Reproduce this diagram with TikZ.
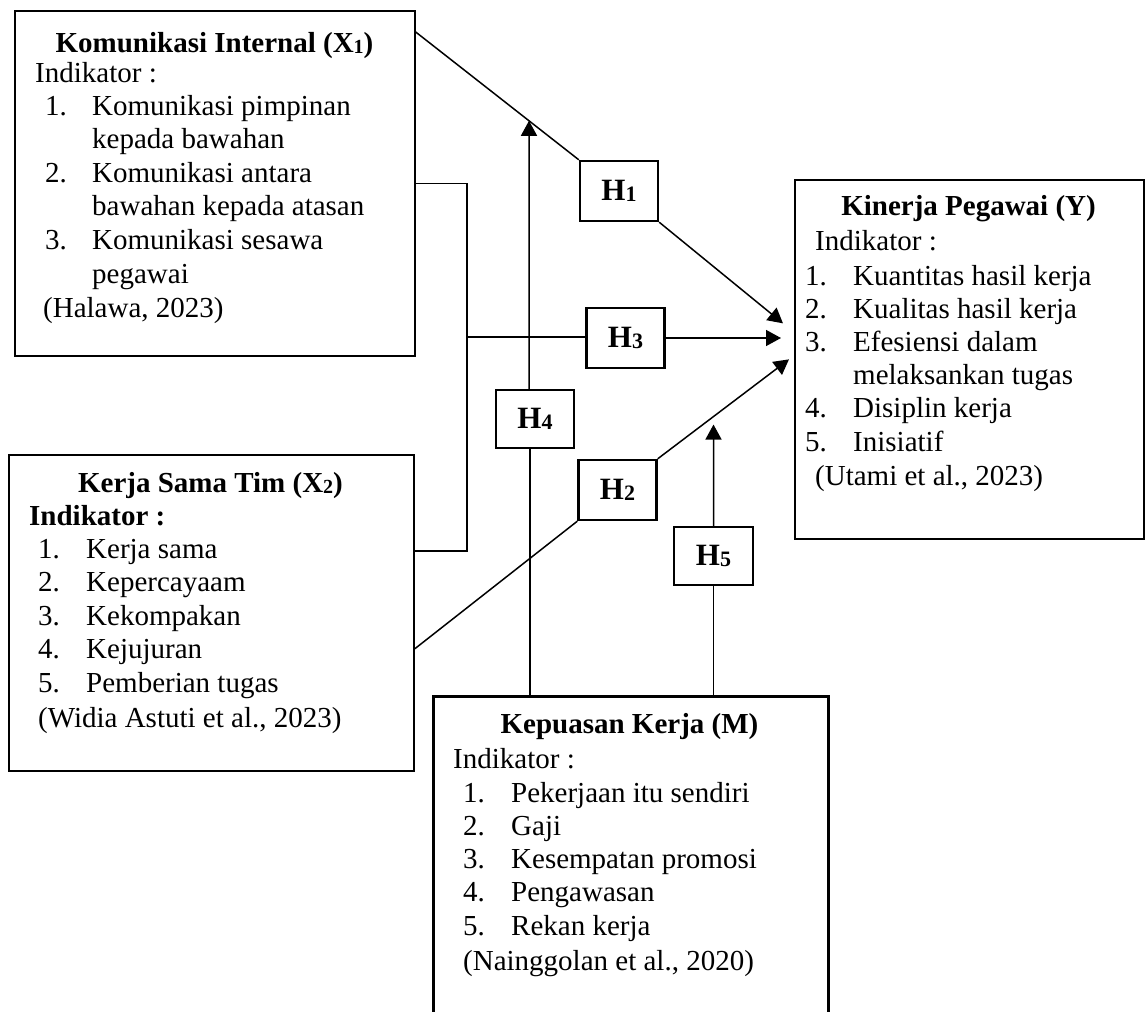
\documentclass[tikz,border=0pt]{standalone}
\usepackage{fontspec}
\setmainfont{Liberation Serif}
\usetikzlibrary{arrows.meta,intersections}
\newcommand\kfsub[2][20]{{\fontsize{#1}{#1}\selectfont\raisebox{-1.5pt}{#2}}}

\begin{document}
\begin{tikzpicture}[x=1pt,y=-1pt]
\tikzset{
    kfBox/.style={rectangle,draw=black,line width=1.7pt,anchor=north west,inner sep=0pt},
    kfHyp/.style={rectangle,draw=black,line width=2.4pt,minimum width=78pt,minimum height=60pt,inner sep=0pt,font=\fontsize{31}{33}\selectfont\bfseries},
    kfHead/.style={anchor=base,inner sep=0pt,font=\fontsize{29}{33.5}\selectfont\bfseries},
    kfTxt/.style={anchor=base west,inner sep=0pt,font=\fontsize{29}{33.5}\selectfont},
    kfLine/.style={draw=black,line width=1.5pt},
    kfArrow/.style={kfLine,-{Triangle[length=15pt,width=16pt]}},
}
\useasboundingbox (0,0) rectangle (1146,1012);
\clip (0,0) rectangle (1146,1012);

% variable boxes
\node[kfBox,minimum width=400pt,minimum height=345pt] (x1) at (14,10) {};
\node[kfBox,minimum width=405pt,minimum height=316pt] (x2) at (8,454) {};
\node[kfBox,minimum width=349pt,minimum height=359pt] (y) at (794,179) {};
\node[kfBox,minimum width=395pt,minimum height=360pt,line width=2.8pt] (m) at (432,695) {};

% X1
\node[kfHead] (x1h) at (214.5,52) {Komunikasi Internal (X\kfsub{1})};
\node[kfTxt] (x1i) at (35,82) {Indikator :};
\foreach \n/\t [count=\i] in {1./Komunikasi pimpinan, /kepada bawahan, 2./Komunikasi antara, /bawahan kepada atasan, 3./Komunikasi sesawa, /pegawai}
    \node[kfTxt] (x1t\i) at (45,{115+33.6*(\i-1)}) {\makebox[47pt][l]{\n}\t};
\node[kfTxt] (x1s) at (43,317) {(Halawa, 2023)};

% X2
\node[kfHead] (x2h) at (210.5,492) {Kerja Sama Tim (X\kfsub{2})};
\node[kfTxt,font=\fontsize{29}{33.5}\selectfont\bfseries] (x2i) at (29,525) {Indikator :};
\foreach \t [count=\i] in {Kerja sama, Kepercayaam, Kekompakan, Kejujuran, Pemberian tugas}
    \node[kfTxt] (x2t\i) at (38,{558+33.5*(\i-1)}) {\makebox[48pt][l]{\i.}\t};
\node[kfTxt] (x2s) at (38,727) {(Widia Astuti et al., 2023)};

% M
\node[kfHead] (mh) at (629.5,733) {Kepuasan Kerja (M)};
\node[kfTxt] (mi) at (453,768) {Indikator :};
\foreach \t [count=\i] in {Pekerjaan itu sendiri, Gaji, Kesempatan promosi, Pengawasan, Rekan kerja}
    \node[kfTxt] (mt\i) at (463,{802+33.3*(\i-1)}) {\makebox[48pt][l]{\i.}\t};
\node[kfTxt] (ms) at (463,970) {(Nainggolan et al., 2020)};

% Y
\node[kfHead] (yh) at (968.5,215) {Kinerja Pegawai (Y)};
\node[kfTxt] (yi) at (815,250) {Indikator :};
\foreach \n/\t [count=\i] in {1./Kuantitas hasil kerja, 2./Kualitas hasil kerja, 3./Efesiensi dalam, /melaksankan tugas, 4./Disiplin kerja, 5./Inisiatif}
    \node[kfTxt] (yt\i) at (805,{285+33.2*(\i-1)}) {\makebox[48pt][l]{\n}\t};
\node[kfTxt] (ys) at (815,485) {(Utami et al., 2023)};

% hypotheses
\node[kfHyp] (h1) at (619,191) {H\kfsub[22]{1}};
\node[kfHyp] (h3) at (625.5,338) {H\kfsub[22]{3}};
\node[kfHyp,minimum height=58pt] (h4) at (535,419) {H\kfsub[22]{4}};
\node[kfHyp] (h2) at (617.5,490) {H\kfsub[22]{2}};
\node[kfHyp,minimum height=58pt,minimum width=79pt] (h5) at (713.5,556) {H\kfsub[22]{5}};

\coordinate (x1o) at ([yshift=-22pt]x1.north east);
\coordinate (jn) at (467,337);
\coordinate (y1) at ([xshift=-11pt,yshift=36pt]y.west);
\coordinate (y3) at ([xshift=-13pt]y.west);
\coordinate (y2) at ([xshift=-5pt]y.west);
\coordinate (h4a) at ([xshift=-6pt]h4.north);
\coordinate (h4b) at ([xshift=-5pt]h4.south);

\draw[kfLine,name path=l1] (x1o) -- (h1.north west);
\draw[kfArrow] (h1.south east) -- (y1);
\draw[kfLine] (x1.east) -| (jn) |- ([yshift=62pt]x2.east);
\draw[kfLine] (jn) -- (jn -| h3.west);
\draw[kfArrow] (h3.east) -- (h3.east -| y3);
\draw[kfLine] ([yshift=-36pt]x2.east) -- (h2.south west);
\draw[kfArrow,name path=l2] (h2.north east) -- (y2);

\path[name path=v4] (h4a) -- ++(0,-400);
\draw[kfArrow,name intersections={of=l1 and v4}] (h4a) -- (intersection-1);
\draw[kfLine] (h4b) -- (h4b |- m.north);

\path[name path=v5] (h5.north) -- ++(0,-400);
\draw[kfArrow,shorten >=8pt,name intersections={of=l2 and v5}] (h5.north) -- (intersection-1);
\draw[kfLine] (h5.south) -- (h5.south |- m.north);
\end{tikzpicture}
\end{document}
